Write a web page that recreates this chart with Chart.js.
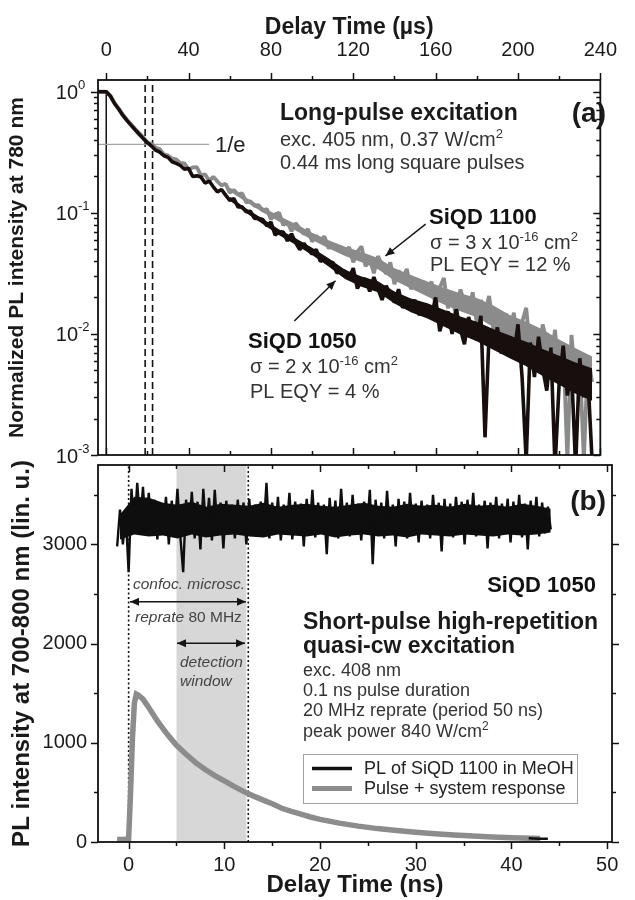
<!DOCTYPE html>
<html>
<head>
<meta charset="utf-8">
<script src="https://cdn.jsdelivr.net/npm/chart.js@4/dist/chart.umd.min.js"></script>
<style>
  html, body { margin: 0; padding: 0; background: #fff; }
  #wrap { position: relative; width: 635px; height: 900px; }
  #wrap canvas { position: absolute; left: 0; }
  #panelA { top: 0; }
  #panelB { top: 440px; }
</style>
</head>
<body>
<div id="wrap">
  <canvas id="panelA" width="635" height="475"></canvas>
  <canvas id="panelB" width="635" height="460"></canvas>
</div>
<script>
// ---------- panel (a): long-pulse PL decay, normalized, log scale ----------
const timeStartA = -4;   // µs, first sample
const timeStepA = 2;     // µs between samples

// SiQD 1050 (black), one value per sample
const plSiqd1050 = [
  1.0, 1.0, 1.0, 0.92, 0.80, 0.72, 0.64, 0.58, 0.53, 0.485, 0.445, 0.41, 0.38, 0.356,
  0.329, 0.317, 0.296, 0.287, 0.264, 0.256, 0.246, 0.229, 0.233, 0.1995,
  0.202, 0.198, 0.176, 0.183, 0.164, 0.149, 0.156, 0.140, 0.127, 0.131,
  0.112, 0.112, 0.102, 0.103, 0.090, 0.090, 0.088, 0.078, 0.084, 0.0656,
  0.0697, 0.0695, 0.0586, 0.067, 0.0568, 0.0496, 0.0559, 0.050, 0.0456, 0.0499,
  0.0396, 0.0423, 0.0378, 0.0391, 0.032, 0.0327, 0.033, 0.0288, 0.0349, 0.0237,
  0.0275, 0.0285, 0.0224, 0.0295, 0.0236, 0.0191, 0.025, 0.021, 0.0182, 0.0234,
  0.0164, 0.019, 0.0163, 0.0191, 0.0143, 0.0164, 0.0173, 0.0139, 0.020, 0.0105,
  0.0139, 0.0153, 0.010, 0.016, 0.011, 0.0082, 0.0138, 0.0107, 0.0089, 0.0141,
  0.0014, 0.0103, 0.0082, 0.0113, 0.0069, 0.0086, 0.0095, 0.0066, 0.012, 0.0044,
  0.0009, 0.0085, 0.0044, 0.0095, 0.0052, 0.0034, 0.0077, 0.0008, 0.0039, 0.008,
  0.0031, 0.0052, 0.0008, 0.0063, 0.003, 0.0043, 0.0009
];

// SiQD 1100 (grey)
const plSiqd1100 = [
  1.0, 1.0, 1.0, 0.93, 0.81, 0.73, 0.65, 0.59, 0.54, 0.495,
  0.455, 0.42, 0.380, 0.370, 0.345, 0.336, 0.304, 0.298, 0.281, 0.276,
  0.258, 0.256, 0.227, 0.2375, 0.238, 0.204, 0.208, 0.184, 0.198, 0.182,
  0.168, 0.174, 0.1466, 0.154, 0.142, 0.1447, 0.122, 0.1245, 0.1144, 0.1157,
  0.1038, 0.1075, 0.0885, 0.0974, 0.0999, 0.0793, 0.0839, 0.0704, 0.0824, 0.0739,
  0.0668, 0.0734, 0.0577, 0.0646, 0.059, 0.064, 0.0508, 0.0549, 0.0498, 0.0525,
  0.0464, 0.0521, 0.039, 0.0478, 0.0529, 0.0362, 0.0417, 0.0317, 0.0439, 0.0368,
  0.0313, 0.039, 0.0257, 0.0333, 0.029, 0.0344, 0.0234, 0.0277, 0.024, 0.0272,
  0.0221, 0.0271, 0.0167, 0.0241, 0.029, 0.0163, 0.0209, 0.0135, 0.0233, 0.0183,
  0.015, 0.0221, 0.0121, 0.019, 0.0153, 0.0206, 0.011, 0.0148, 0.0118, 0.0148,
  0.0104, 0.015, 0.007, 0.0125, 0.0164, 0.0071, 0.0102, 0.0053, 0.012, 0.0084,
  0.0062, 0.0108, 0.0043, 0.0084, 0.0009, 0.0098, 0.0039, 0.0062, 0.0009, 0.0066,
  0.004
];

// dense core of the noisy tails (upper / lower edge), every 8 µs from 60 µs
const coreTimeA = [60, 68, 76, 84, 92, 100, 108, 116, 124, 132, 140, 148,
  156, 164, 172, 180, 188, 196, 204, 212, 220, 228, 236];
const core1050Top = [0.1356, 0.1084, 0.0892, 0.0729, 0.0617, 0.0515, 0.0422, 0.0338, 0.0298, 0.0272, 0.0224, 0.0196,
  0.0179, 0.0158, 0.0139, 0.0126, 0.011, 0.0097, 0.0086, 0.0075, 0.0066, 0.0058, 0.0052];
const core1050Bottom = [0.1265, 0.0998, 0.081, 0.0653, 0.0545, 0.0448, 0.0361, 0.0284, 0.0245, 0.0221, 0.0178, 0.0151,
  0.0134, 0.0115, 0.0099, 0.0087, 0.0074, 0.0063, 0.0054, 0.0045, 0.0038, 0.0032, 0.0028];
const core1100Top = [0.1615, 0.1334, 0.1113, 0.0941, 0.0809, 0.0686, 0.0595, 0.0524, 0.0474, 0.0423, 0.0348, 0.0307,
  0.0271, 0.024, 0.0217, 0.0198, 0.0172, 0.0143, 0.0126, 0.0109, 0.009, 0.0076, 0.0065];
const core1100Bottom = [0.1507, 0.1228, 0.101, 0.0842, 0.0714, 0.0597, 0.0509, 0.044, 0.039, 0.0342, 0.0276, 0.0237,
  0.0204, 0.0175, 0.0154, 0.0137, 0.0114, 0.0092, 0.0078, 0.0065, 0.0052, 0.0041, 0.0034];

const oneOverE = 1 / Math.E;
const eLineRange = [-4, 50];         // µs
const dashedMarkersA = [18.9, 22.5]; // µs
const pulseEdgeA = 0;                // µs
const usTicksMajor = [0, 40, 80, 120, 160, 200, 240];
const usTicksMinor = [20, 60, 100, 140, 180, 220];
const decadeTicks = [1e-3, 1e-2, 1e-1, 1];
const decadeExponents = ['-3', '-2', '-1', '0'];
const minorFactors = [2, 3, 4, 5, 6, 7, 8, 9];

// ---------- panel (b): short-pulse high-repetition excitation, ns ----------
const timeStartB = -1.2;  // ns
const timeStepB = 0.3;    // ns

// SiQD 1050 under quasi-cw excitation (black trace)
const plSiqd1050B = [
  2980, 3350, 3000, 3300, 2720, 3560, 3150, 3620, 3200, 3580,
  3100, 3520, 3150, 3450, 3050, 3420, 3100, 3480, 3000, 3440,
  3120, 3560, 3080, 2720, 3450, 3100, 3530, 3060, 3430, 2950,
  3560, 3120, 3470, 3040, 3550, 3100, 3420, 2960, 3440, 3130,
  3400, 3060, 3450, 3100, 3420, 3000, 3460, 3120, 3400, 3080,
  3430, 3130, 3620, 3060, 3420, 3100, 3480, 3040, 3400, 3120,
  3520, 3050, 3430, 3150, 3410, 2980, 3460, 3100, 3550, 3070,
  3420, 3140, 3400, 2900, 3470, 3110, 3440, 3060, 3560, 3130,
  3420, 3080, 3500, 3120, 3410, 3040, 3430, 3140, 3550, 2800,
  3450, 3100, 3420, 3060, 3540, 3120, 3400, 2980, 3460, 3100,
  3430, 3060, 3520, 3140, 3410, 3020, 3440, 3110, 3400, 3060,
  3500, 3130, 3420, 2930, 3460, 3100, 3410, 3070, 3480, 3140,
  3430, 3000, 3450, 3120, 3520, 3080, 3400, 3130, 3440, 2960,
  3420, 3110, 3480, 3060, 3410, 3140, 3460, 3020, 3430, 3100,
  3500, 3070, 3410, 2950, 3440, 3120, 3480, 3080, 3420, 3110,
  3380, 3150
];

// dense core of that trace (upper / lower edge), every 1.5 ns
const coreTimeB = [-0.9, 0.6, 2.1, 3.6, 5.1, 6.6, 8.1, 9.6, 11.1, 12.6, 14.1, 15.6, 17.1, 18.6, 20.1, 21.6,
  23.1, 24.6, 26.1, 27.6, 29.1, 30.6, 32.1, 33.6, 35.1, 36.6, 38.1, 39.6, 41.1, 42.6, 44.1];
const core1050TopB = [3300, 3480, 3470, 3420, 3400, 3430, 3380, 3410, 3400, 3390, 3420, 3380, 3400, 3410, 3390, 3380,
  3400, 3420, 3390, 3380, 3410, 3390, 3400, 3380, 3410, 3390, 3400, 3380, 3410, 3390, 3360];
const core1050BottomB = [3050, 3100, 3080, 3090, 3060, 3100, 3070, 3090, 3100, 3080, 3070, 3100, 3090, 3080, 3100, 3070,
  3090, 3100, 3080, 3090, 3070, 3100, 3090, 3080, 3100, 3090, 3080, 3100, 3090, 3100, 3120];

// pulse + system response (grey)
const pulseTimeB = [-1.2, -0.6, 0, 0.2, 0.4, 0.6, 0.8, 1.0, 1.5, 2, 3, 4, 5, 6, 7, 8, 9, 10,
  11, 12, 13, 14, 15, 16, 17, 18, 19, 20, 22, 24, 26, 28, 30, 32, 34, 36, 38, 40, 42, 43];
const pulseResponseB = [25, 25, 30, 500, 1050, 1400, 1490, 1480, 1440, 1370, 1220, 1090, 975, 885, 800, 730, 670, 615,
  560, 510, 465, 425, 385, 340, 308, 280, 252, 228, 190, 160, 135, 115, 98, 83, 70, 60, 51, 44, 38, 35];

// SiQD 1100 in MeOH, tail end visible near the baseline
const tailTimeB = [41.8, 42.8, 43.8];
const tailSiqd1100B = [38, 34, 32];

const detectionWindow = [5.0, 12.3];   // ns
const dottedMarkersB = [0, 12.5];      // ns
const nsTicksMajor = [0, 10, 20, 30, 40, 50];
const nsTicksMinor = [5, 15, 25, 35, 45];
const countTicksMajor = [0, 1000, 2000, 3000];
const countTicksMinor = [500, 1500, 2500, 3500];

// ---------- helpers ----------
const FONT = "'Liberation Sans', Arial, Helvetica, sans-serif";
Chart.defaults.font.family = FONT;
Chart.defaults.color = '#1a1a1a';

const BLACK_A = '#170e0e';
const GREY_A = '#8b8b8b';
const BLACK_B = '#0e0e0e';

const zip = (xs, ys) => ys.map((y, i) => ({ x: xs[i], y: y }));
const timesA = plSiqd1050.map((_, i) => timeStartA + i * timeStepA);
const timesB = plSiqd1050B.map((_, i) => Math.round((timeStartB + i * timeStepB) * 10) / 10);
const logMinorTicks = decadeTicks.slice(0, 3).flatMap(d => minorFactors.map(f => f * d));

function vline(x, y0, y1) { return [{ x: x, y: y0 }, { x: x, y: y1 }]; }

// two datasets: upper edge (no stroke) and lower edge filled up to it
function coreBand(label, xs, top, bottom, color) {
  return [
    { label: label + ' core top', data: zip(xs, top), borderWidth: 0, borderColor: color, fill: false },
    { label: label + ' core bottom', data: zip(xs, bottom), borderWidth: 0, borderColor: color, backgroundColor: color, fill: '-1' }
  ];
}

function fontOf(run) {
  return (run.style || '') + ' ' + (run.weight || '') + ' ' + run.size + 'px ' + FONT;
}

// draws a line of text made of runs (bold/italic/superscript pieces)
function drawRuns(ctx, item) {
  const base = item.runs[0].size;
  let total = 0;
  item.runs.forEach(r => { ctx.font = fontOf(r); total += ctx.measureText(r.t).width; });
  let cx = item.x;
  if (item.align === 'right') cx -= total;
  if (item.align === 'center') cx -= total / 2;
  ctx.textBaseline = 'alphabetic';
  ctx.textAlign = 'left';
  item.runs.forEach(r => {
    ctx.font = fontOf(r);
    ctx.fillStyle = r.color || item.color || '#222';
    ctx.fillText(r.t, cx, item.y + base * 0.36 - (r.rise || 0));
    cx += ctx.measureText(r.t).width;
  });
}

function drawArrow(ctx, x0, y0, x1, y1, both) {
  const head = 9, half = 4;
  ctx.save();
  ctx.strokeStyle = '#151515';
  ctx.fillStyle = '#151515';
  ctx.lineWidth = 1.5;
  ctx.beginPath();
  ctx.moveTo(x0, y0);
  ctx.lineTo(x1, y1);
  ctx.stroke();
  const tip = (tx, ty, fx, fy) => {
    const ang = Math.atan2(ty - fy, tx - fx);
    ctx.beginPath();
    ctx.moveTo(tx, ty);
    ctx.lineTo(tx - head * Math.cos(ang) + half * Math.sin(ang), ty - head * Math.sin(ang) - half * Math.cos(ang));
    ctx.lineTo(tx - head * Math.cos(ang) - half * Math.sin(ang), ty - head * Math.sin(ang) + half * Math.cos(ang));
    ctx.closePath();
    ctx.fill();
  };
  tip(x1, y1, x0, y0);
  if (both) tip(x0, y0, x1, y1);
  ctx.restore();
}

// frame round the plot area plus tick marks on each side
const framePlugin = {
  id: 'frame',
  afterDatasetsDraw(chart, args, opts) {
    const { ctx, chartArea: a } = chart;
    ctx.save();
    ctx.strokeStyle = '#111';
    ctx.lineWidth = 1.5;
    (opts.ticks || []).forEach(spec => {
      const scale = chart.scales[spec.scale];
      const d = spec.inward ? 1 : -1;
      spec.values.forEach(v => {
        const p = Math.round(scale.getPixelForValue(v)) + 0.5;
        ctx.beginPath();
        if (spec.side === 'top') { ctx.moveTo(p, a.top); ctx.lineTo(p, a.top + d * spec.len); }
        else if (spec.side === 'bottom') { ctx.moveTo(p, a.bottom); ctx.lineTo(p, a.bottom - d * spec.len); }
        else if (spec.side === 'left') { ctx.moveTo(a.left, p); ctx.lineTo(a.left + d * spec.len, p); }
        else { ctx.moveTo(a.right, p); ctx.lineTo(a.right - d * spec.len, p); }
        ctx.stroke();
      });
    });
    ctx.lineWidth = 1.8;
    ctx.strokeRect(a.left, a.top, a.right - a.left, a.bottom - a.top);
    ctx.restore();
  }
};

// text labels and arrows, in canvas pixels
const notesPlugin = {
  id: 'notes',
  afterDraw(chart, args, opts) {
    const ctx = chart.ctx;
    ctx.save();
    (opts.texts || []).forEach(item => drawRuns(ctx, item));
    (opts.arrows || []).forEach(ar => drawArrow(ctx, ar[0], ar[1], ar[2], ar[3], ar[4]));
    ctx.restore();
  }
};

// ---------- panel (a) ----------
const R = (t, size, extra) => Object.assign({ t: t, size: size }, extra || {});
const B = { weight: 'bold' };
const I = { style: 'italic' };
const SUP = { rise: 8 };

const logLabelPlugin = {
  id: 'logLabels',
  afterDraw(chart) {
    const ctx = chart.ctx;
    const y = chart.scales.y;
    ctx.save();
    decadeTicks.forEach((v, i) => {
      const py = y.getPixelForValue(v);
      ctx.fillStyle = '#1a1a1a';
      ctx.font = '20px ' + FONT;
      ctx.textAlign = 'right';
      ctx.textBaseline = 'middle';
      ctx.fillText('10', 78, py + 2);
      ctx.font = '13px ' + FONT;
      ctx.textAlign = 'left';
      ctx.fillText(decadeExponents[i], 78, py - 6);
    });
    ctx.restore();
  }
};

new Chart(document.getElementById('panelA'), {
  type: 'line',
  data: {
    datasets: [
      { label: 'SiQD 1050', data: zip(timesA, plSiqd1050), borderColor: BLACK_A, borderWidth: 3.6, borderJoinStyle: 'bevel' },
      ...coreBand('SiQD 1050', coreTimeA, core1050Top, core1050Bottom, BLACK_A),
      { label: 'SiQD 1100', data: zip(timesA, plSiqd1100), borderColor: GREY_A, borderWidth: 3.8, borderJoinStyle: 'bevel' },
      ...coreBand('SiQD 1100', coreTimeA, core1100Top, core1100Bottom, GREY_A),
      { label: '1/e', data: [{ x: eLineRange[0], y: oneOverE }, { x: eLineRange[1], y: oneOverE }], borderColor: '#a3a3a3', borderWidth: 1.3 },
      { label: 'marker 1', data: vline(dashedMarkersA[0], 1e-3, 1.25), borderColor: '#111', borderWidth: 1.6, borderDash: [7, 4] },
      { label: 'marker 2', data: vline(dashedMarkersA[1], 1e-3, 1.25), borderColor: '#111', borderWidth: 1.6, borderDash: [7, 4] },
      { label: 'pulse edge', data: vline(pulseEdgeA, 1e-3, 1), borderColor: '#111', borderWidth: 1.5 }
    ]
  },
  options: {
    responsive: false,
    animation: false,
    events: [],
    layout: { padding: { top: 0, right: 23, bottom: 20, left: 0 } },
    elements: { point: { radius: 0 }, line: { tension: 0 } },
    plugins: {
      legend: { display: false },
      tooltip: { enabled: false },
      frame: {
        ticks: [
          { scale: 'x', side: 'top', values: usTicksMajor, len: 7 },
          { scale: 'x', side: 'top', values: usTicksMinor, len: 4 },
          { scale: 'x', side: 'bottom', values: usTicksMajor, len: 7, inward: true },
          { scale: 'x', side: 'bottom', values: usTicksMinor, len: 4, inward: true },
          { scale: 'y', side: 'left', values: decadeTicks, len: 7 },
          { scale: 'y', side: 'left', values: logMinorTicks, len: 4 },
          { scale: 'y', side: 'right', values: decadeTicks, len: 7, inward: true },
          { scale: 'y', side: 'right', values: logMinorTicks, len: 4, inward: true }
        ]
      },
      notes: {
        texts: [
          { x: 606, y: 112, align: 'right', color: '#1a1a1a', runs: [R('(a)', 28, B)] },
          { x: 280, y: 112, color: '#1a1a1a', runs: [R('Long-pulse excitation', 23, B)] },
          { x: 280, y: 138.5, color: '#333', runs: [R('exc. 405 nm, 0.37 W/cm', 20), R('2', 13, SUP)] },
          { x: 280, y: 162, color: '#333', runs: [R('0.44 ms long square pulses', 20)] },
          { x: 215, y: 144, color: '#222', runs: [R('1/e', 22)] },
          { x: 429, y: 216, color: '#111', runs: [R('SiQD 1100', 22, B)] },
          { x: 430, y: 242, color: '#333', runs: [R('\u03c3 = 3 x 10', 20), R('-16', 13, SUP), R(' cm', 20), R('2', 13, SUP)] },
          { x: 430, y: 264, color: '#333', runs: [R('PL EQY = 12 %', 20)] },
          { x: 248, y: 340, color: '#111', runs: [R('SiQD 1050', 22, B)] },
          { x: 250, y: 365.5, color: '#333', runs: [R('\u03c3 = 2 x 10', 20), R('-16', 13, SUP), R(' cm', 20), R('2', 13, SUP)] },
          { x: 250, y: 390.5, color: '#333', runs: [R('PL EQY = 4 %', 20)] }
        ],
        arrows: [
          [425.6, 224.2, 385.4, 256, false],
          [294.3, 321, 335.5, 280.8, false]
        ]
      }
    },
    scales: {
      x: {
        type: 'linear', position: 'top', min: -4, max: 240,
        afterBuildTicks: s => { s.ticks = usTicksMajor.map(v => ({ value: v })); },
        afterFit: s => { s.height = 80; },
        ticks: { font: { size: 20 }, padding: 18, maxRotation: 0, autoSkip: false, callback: v => String(v) },
        grid: { display: false, drawTicks: false },
        border: { display: false },
        title: { display: true, text: 'Delay Time (\u00b5s)', font: { size: 23, weight: 'bold' }, padding: { top: 14, bottom: 0 } }
      },
      y: {
        type: 'logarithmic', min: 1e-3, max: 1.25,
        afterFit: s => { s.width = 98; },
        ticks: { display: false },
        grid: { display: false, drawTicks: false },
        border: { display: false },
        title: { display: true, text: 'Normalized PL intensity at 780 nm', font: { size: 21, weight: 'bold' }, padding: { top: 5, bottom: 0 } }
      }
    }
  },
  plugins: [framePlugin, notesPlugin, logLabelPlugin]
});

// ---------- panel (b) ----------
const windowPlugin = {
  id: 'detWindow',
  beforeDatasetsDraw(chart) {
    const { ctx, chartArea: a, scales } = chart;
    const x0 = scales.x.getPixelForValue(detectionWindow[0]);
    const x1 = scales.x.getPixelForValue(detectionWindow[1]);
    ctx.save();
    ctx.fillStyle = '#d7d7d7';
    ctx.fillRect(x0, a.top, x1 - x0, a.bottom - a.top);
    ctx.restore();
  }
};

// key box drawn inside the plot from the tagged datasets
const keyPlugin = {
  id: 'key',
  afterDraw(chart, args, opts) {
    const ctx = chart.ctx;
    const entries = chart.data.datasets.filter(ds => ds.keyEntry);
    ctx.save();
    ctx.fillStyle = '#fff';
    ctx.fillRect(opts.x, opts.y, opts.w, opts.h);
    ctx.strokeStyle = '#a3a3a3';
    ctx.lineWidth = 1;
    ctx.strokeRect(opts.x + 0.5, opts.y + 0.5, opts.w, opts.h);
    entries.forEach((ds, i) => {
      const cy = opts.y + 14.5 + i * 20;
      ctx.strokeStyle = ds.borderColor;
      ctx.lineWidth = ds.keyWidth;
      ctx.beginPath();
      ctx.moveTo(opts.x + 9, cy);
      ctx.lineTo(opts.x + 49, cy);
      ctx.stroke();
      ctx.fillStyle = '#222';
      ctx.font = '18px ' + FONT;
      ctx.textAlign = 'left';
      ctx.textBaseline = 'middle';
      ctx.fillText(ds.label, opts.x + 61, cy + 1);
    });
    ctx.restore();
  }
};

new Chart(document.getElementById('panelB'), {
  type: 'line',
  data: {
    datasets: [
      { label: 'SiQD 1050', data: zip(timesB, plSiqd1050B), borderColor: BLACK_B, borderWidth: 2.4, borderJoinStyle: 'bevel' },
      ...coreBand('SiQD 1050', coreTimeB, core1050TopB, core1050BottomB, BLACK_B),
      { label: 'PL of SiQD 1100 in MeOH', data: zip(tailTimeB, tailSiqd1100B), borderColor: '#111', borderWidth: 2.5, keyEntry: true, keyWidth: 3.5 },
      { label: 'Pulse + system response', data: zip(pulseTimeB, pulseResponseB), borderColor: '#8c8c8c', borderWidth: 5.5, keyEntry: true, keyWidth: 5 },
      { label: 'pulse arrival', data: vline(dottedMarkersB[0], 0, 3800), borderColor: '#111', borderWidth: 1.6, borderDash: [2, 2.5] },
      { label: 'next pulse', data: vline(dottedMarkersB[1], 0, 3800), borderColor: '#111', borderWidth: 1.6, borderDash: [2, 2.5] }
    ]
  },
  options: {
    responsive: false,
    animation: false,
    events: [],
    layout: { padding: { top: 25, right: 23, bottom: 0, left: 0 } },
    elements: { point: { radius: 0 }, line: { tension: 0 } },
    plugins: {
      legend: { display: false },
      tooltip: { enabled: false },
      frame: {
        ticks: [
          { scale: 'x', side: 'bottom', values: nsTicksMajor, len: 7 },
          { scale: 'x', side: 'bottom', values: nsTicksMinor, len: 4 },
          { scale: 'x', side: 'top', values: nsTicksMajor, len: 7, inward: true },
          { scale: 'x', side: 'top', values: nsTicksMinor, len: 4, inward: true },
          { scale: 'y', side: 'left', values: countTicksMajor, len: 7 },
          { scale: 'y', side: 'left', values: countTicksMinor, len: 4 },
          { scale: 'y', side: 'right', values: countTicksMajor, len: 7 },
          { scale: 'y', side: 'right', values: countTicksMinor, len: 4 }
        ]
      },
      key: { x: 303, y: 314, w: 274, h: 49 },
      notes: {
        texts: [
          { x: 606, y: 60, align: 'right', color: '#1a1a1a', runs: [R('(b)', 28, B)] },
          { x: 133, y: 143.3, color: '#444', runs: [R('confoc. microsc.', 15.5, I)] },
          { x: 135, y: 176.7, color: '#444', runs: [R('reprate', 15.5, I), R(' 80 MHz', 15.5)] },
          { x: 180, y: 221.7, color: '#444', runs: [R('detection', 15.5, I)] },
          { x: 180, y: 240.7, color: '#444', runs: [R('window', 15.5, I)] },
          { x: 596, y: 144, align: 'right', color: '#111', runs: [R('SiQD 1050', 22, B)] },
          { x: 303, y: 181, color: '#1a1a1a', runs: [R('Short-pulse high-repetition', 23, B)] },
          { x: 303, y: 204.4, color: '#1a1a1a', runs: [R('quasi-cw excitation', 23, B)] },
          { x: 303, y: 230, color: '#333', runs: [R('exc. 408 nm', 18)] },
          { x: 303, y: 250, color: '#333', runs: [R('0.1 ns pulse duration', 18)] },
          { x: 303, y: 270, color: '#333', runs: [R('20 MHz reprate (period 50 ns)', 18)] },
          { x: 303, y: 291, color: '#333', runs: [R('peak power 840 W/cm', 18), R('2', 12, { rise: 7 })] }
        ],
        arrows: [
          [130, 161.7, 246, 161.7, true],
          [177, 203.3, 245, 203.3, true]
        ]
      }
    },
    scales: {
      x: {
        type: 'linear', position: 'bottom', min: -3.2, max: 50.5,
        afterBuildTicks: s => { s.ticks = nsTicksMajor.map(v => ({ value: v })); },
        afterFit: s => { s.height = 58; },
        ticks: { font: { size: 20 }, padding: 11, maxRotation: 0, autoSkip: false, callback: v => String(v) },
        grid: { display: false, drawTicks: false },
        border: { display: false },
        title: { display: true, text: 'Delay Time (ns)', font: { size: 24, weight: 'bold' }, padding: { top: 0, bottom: 0 } }
      },
      y: {
        type: 'linear', min: 0, max: 3800,
        afterBuildTicks: s => { s.ticks = countTicksMajor.map(v => ({ value: v })); },
        afterFit: s => { s.width = 98; },
        ticks: { font: { size: 20 }, padding: 11, callback: v => String(v) },
        grid: { display: false, drawTicks: false },
        border: { display: false },
        title: { display: true, text: 'PL intensity at 700-800 nm (lin. u.)', font: { size: 24, weight: 'bold' }, padding: { top: 8, bottom: 0 } }
      }
    }
  },
  plugins: [windowPlugin, framePlugin, notesPlugin, keyPlugin]
});
</script>
</body>
</html>
